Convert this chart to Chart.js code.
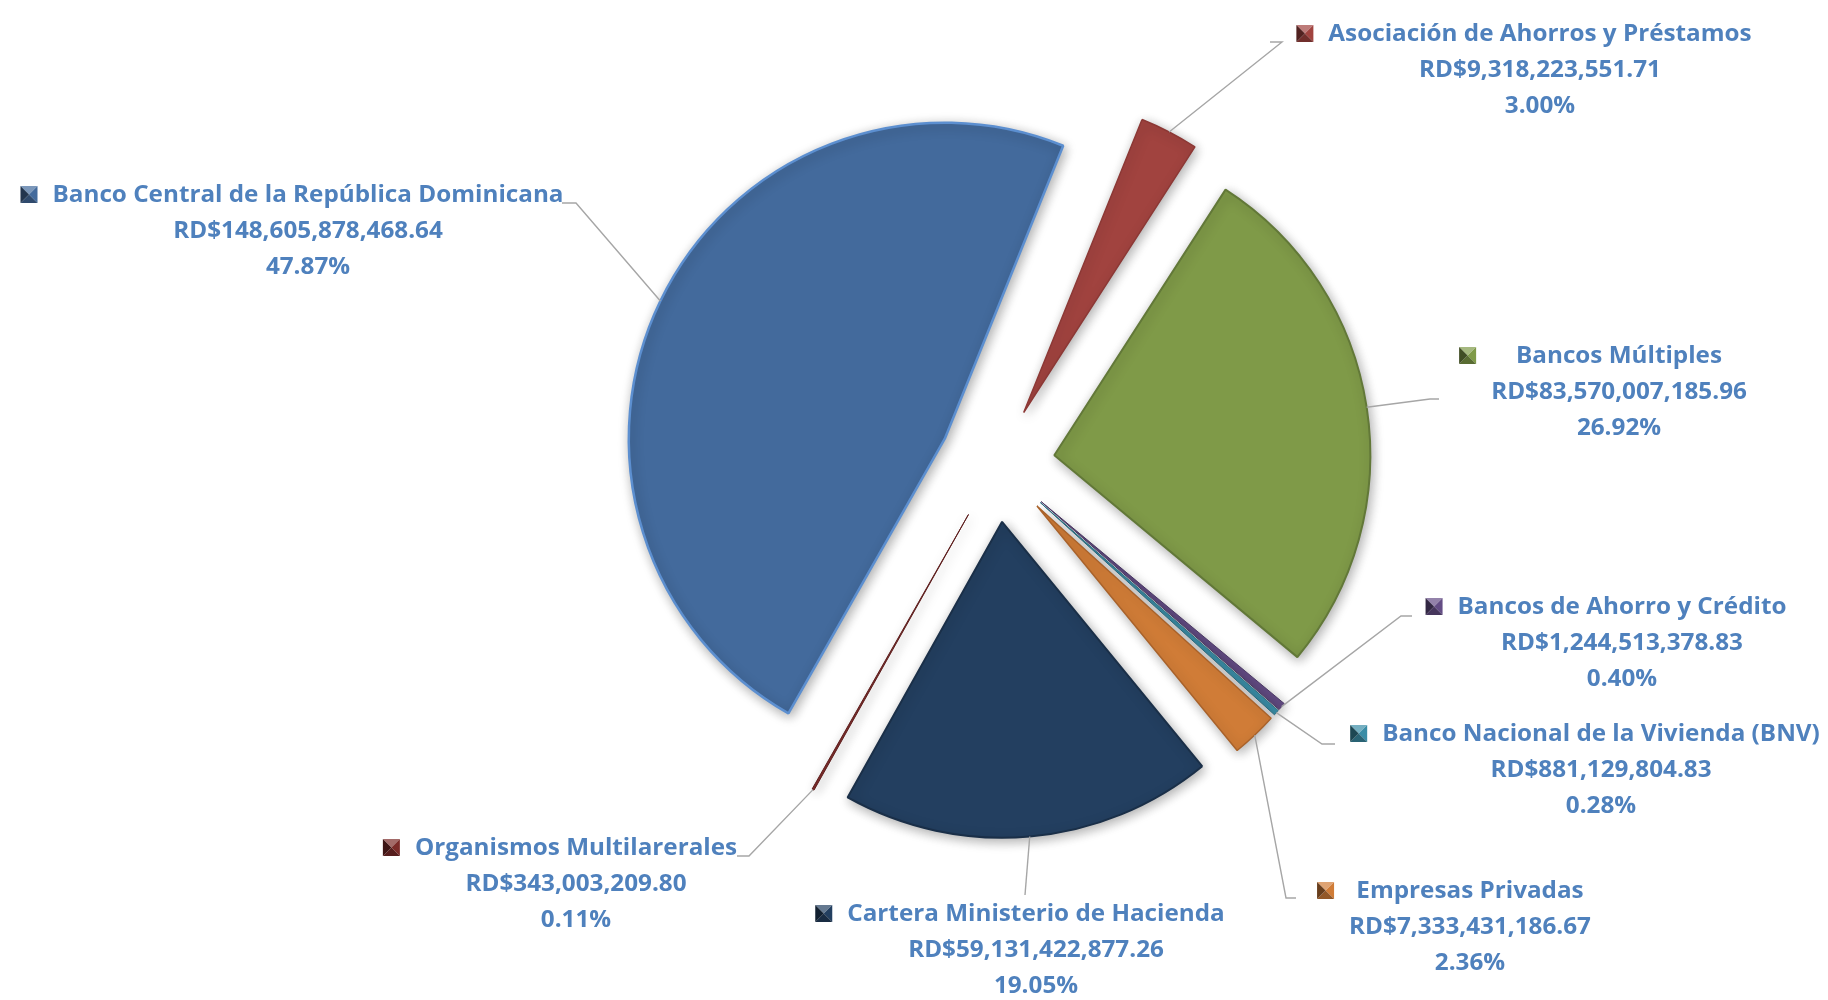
<!DOCTYPE html>
<html>
<head>
<meta charset="utf-8">
<script src="https://cdn.jsdelivr.net/npm/chart.js@4/dist/chart.umd.min.js"></script>
<style>
html,body{margin:0;padding:0;background:#fff;}
#caja{width:1828px;height:1000px;position:relative;}
</style>
</head>
<body>
<div id="caja"><canvas id="grafico"></canvas></div>
<script>

/* =============================
DATOS
============================= */

const categorias=[
"Asociación de Ahorros y Préstamos",
"Bancos Múltiples",
"Bancos de Ahorro y Crédito",
"Banco Nacional de la Vivienda (BNV)",
"Empresas Privadas",
"Cartera Ministerio de Hacienda",
"Organismos Multilarerales",
"Banco Central de la República Dominicana"
];

const valores=[
9318223551.71,
83570007185.96,
1244513378.83,
881129804.83,
7333431186.67,
59131422877.26,
343003209.80,
148605878468.64
];

const colores=["#A1433F","#7F9A48","#644D85","#3A8DA6","#D07C37","#233F60","#7B2B29","#436A9C"];
const bordes=["#8C3835","#627838","#4E3C68","#2C6F83","#A9622A","#1A2F48","#5E1F1E","#5C8FD0"];

/* =============================
DISPOSICION (etiquetas y guias)
============================= */

// centro x del texto, centro y de la primera linea
const posEtiquetas=[
[1540,34],[1619,356],[1622,607],[1601,734],[1470,891],[1036,914],[576,848],[308,195]
];

// codo y fin de cada linea guia
const guias=[
[[1282,42],[1270,42]],
[[1430,399],[1439,399]],
[[1401,616],[1412,616]],
[[1322,744],[1335,744]],
[[1286,898],[1296,898]],
[[1025,895],[1025,895]],
[[749,856],[737,856]],
[[576,203],[562,203]]
];

const explosion=58;
const colorTexto="#4F81BD";
const fuente="bold 23px 'Open Sans', Lato, sans-serif";
const anchoRef=511; // ancho de la primera linea del Banco Central en la referencia

/* =============================
UTILIDADES
============================= */

function formatoRD(v){
return "RD$"+v.toLocaleString("en-US",{minimumFractionDigits:2,maximumFractionDigits:2});
}

function mezclar(hex,otro,t){
const a=parseInt(hex.slice(1),16),b=parseInt(otro.slice(1),16);
const r=Math.round(((a>>16)&255)*(1-t)+((b>>16)&255)*t);
const g=Math.round(((a>>8)&255)*(1-t)+((b>>8)&255)*t);
const bl=Math.round((a&255)*(1-t)+(b&255)*t);
return `rgb(${r},${g},${bl})`;
}

function cuadroBisel(ctx,x,y,s,color){
const c=[x+s/2,y+s/2];
const caras=[
[[x,y],[x+s,y],mezclar(color,"#FFFFFF",0.3)],
[[x+s,y],[x+s,y+s],color],
[[x+s,y+s],[x,y+s],mezclar(color,"#000000",0.3)],
[[x,y+s],[x,y],mezclar(color,"#000000",0.5)]
];
caras.forEach(f=>{
ctx.beginPath();
ctx.moveTo(f[0][0],f[0][1]);
ctx.lineTo(f[1][0],f[1][1]);
ctx.lineTo(c[0],c[1]);
ctx.closePath();
ctx.fillStyle=f[2];
ctx.fill();
});
}

/* =============================
PLUGINS
============================= */

const pluginExplotar={
id:"explotar",
beforeDatasetDraw(chart,args){
const ctx=chart.ctx;
args.meta.data.forEach(arc=>{
const mid=(arc.startAngle+arc.endAngle)/2;
ctx.save();
ctx.translate(Math.cos(mid)*explosion,Math.sin(mid)*explosion);
ctx.shadowColor="rgba(0,0,0,0.32)";
ctx.shadowBlur=12;
ctx.shadowOffsetX=2;
ctx.shadowOffsetY=3;
arc.draw(ctx);
ctx.restore();
});
return false;
}
};

const pluginEtiquetas={
id:"etiquetas",
afterDraw(chart){
const ctx=chart.ctx;
const arcs=chart.getDatasetMeta(0).data;
const total=valores.reduce((a,b)=>a+b,0);

ctx.save();

/* lineas guia */
ctx.strokeStyle="#A6A6A6";
ctx.lineWidth=1.4;
arcs.forEach((arc,i)=>{
const mid=(arc.startAngle+arc.endAngle)/2;
const r=arc.outerRadius+explosion;
const x0=arc.x+Math.cos(mid)*r;
const y0=arc.y+Math.sin(mid)*r;
ctx.beginPath();
ctx.moveTo(x0,y0);
ctx.lineTo(guias[i][0][0],guias[i][0][1]);
ctx.lineTo(guias[i][1][0],guias[i][1][1]);
ctx.stroke();
});

/* textos */
ctx.font=fuente;
ctx.textAlign="center";
ctx.textBaseline="middle";
ctx.fillStyle=colorTexto;

// escala horizontal para aproximar el ancho de Calibri
const sx=Math.min(1.2,Math.max(0.8,anchoRef/ctx.measureText(categorias[7]).width));

categorias.forEach((cat,i)=>{
const lineas=[cat,formatoRD(valores[i]),(valores[i]/total*100).toFixed(2)+"%"];
const [cx,cy]=posEtiquetas[i];
let maxW=0;
lineas.forEach((t,k)=>{
maxW=Math.max(maxW,ctx.measureText(t).width*sx);
ctx.save();
ctx.translate(cx,cy+k*36);
ctx.scale(sx,1);
ctx.fillStyle=colorTexto;
ctx.fillText(t,0,0);
ctx.restore();
});
cuadroBisel(ctx,cx-maxW/2-32,cy-9,17,colores[i]);
});

ctx.restore();
}
};

/* =============================
GRAFICO
============================= */

new Chart(document.getElementById("grafico"),{
type:"pie",
data:{
labels:categorias,
datasets:[{
data:valores,
backgroundColor:colores,
borderColor:bordes,
borderWidth:[1.5,2,1,1,1.5,2,1,2.5]
}]
},
options:{
responsive:true,
maintainAspectRatio:false,
animation:false,
events:[],
rotation:22,
radius:316,
layout:{padding:{left:166,right:0,top:0,bottom:72}},
plugins:{
legend:{display:false},
tooltip:{enabled:false}
}
},
plugins:[pluginExplotar,pluginEtiquetas]
});

</script>
</body>
</html>
